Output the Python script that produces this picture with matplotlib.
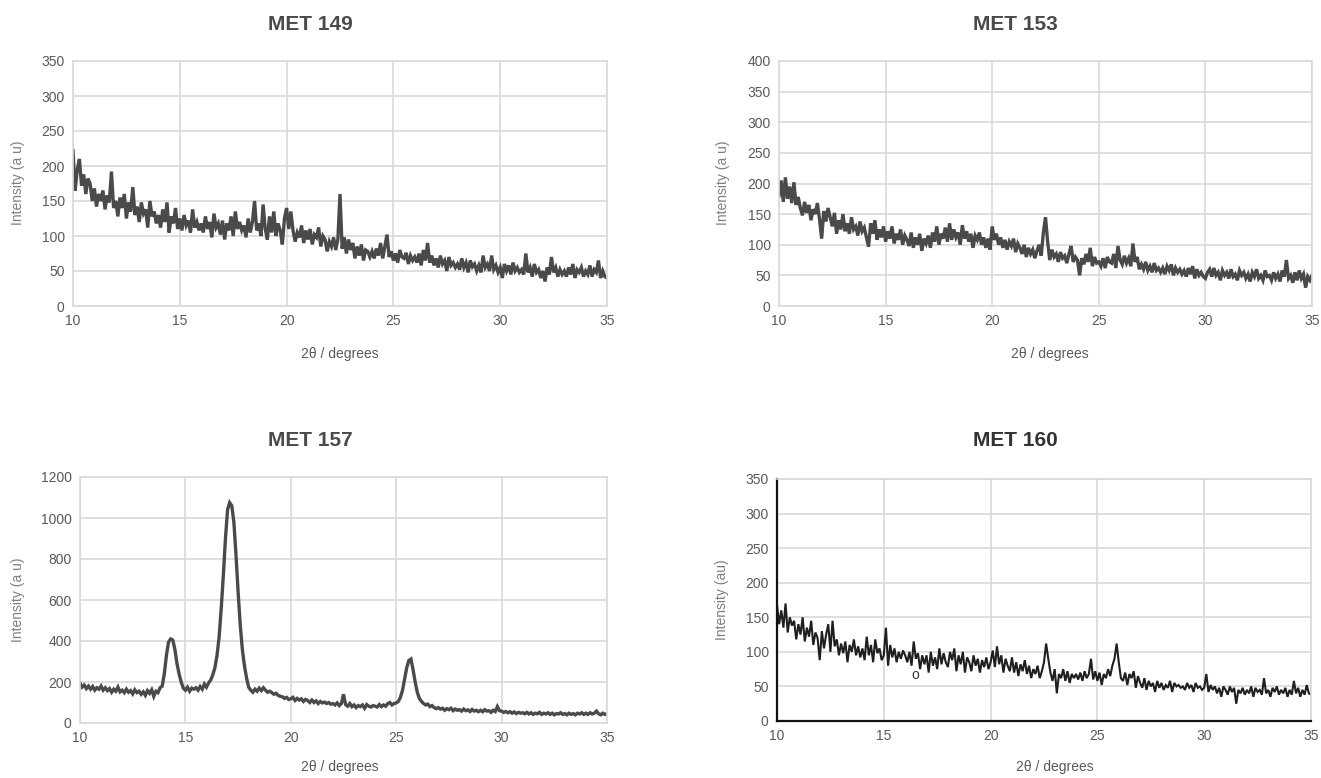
import numpy as np
import matplotlib
matplotlib.use("Agg")
import matplotlib.pyplot as plt

plt.rcParams["font.family"] = ["Liberation Sans", "DejaVu Sans"]

# two-theta grid shared by all patterns (10 to 35 deg, 0.1 deg step)
two_theta = np.round(np.arange(10.0, 35.0001, 0.1), 1)

met149 = [
    222, 165, 195, 210, 172, 188, 160, 182, 175, 150,
    168, 142, 160, 150, 165, 138, 158, 148, 192, 140,
    150, 128, 155, 140, 160, 125, 148, 135, 170, 130,
    142, 120, 148, 132, 138, 112, 150, 128, 135, 118,
    130, 112, 138, 120, 148, 105, 128, 118, 140, 110,
    125, 108, 130, 115, 122, 105, 138, 112, 120, 108,
    118, 105, 128, 110, 120, 98, 132, 112, 118, 102,
    122, 95, 118, 108, 128, 100, 135, 110, 120, 108,
    115, 98, 125, 105, 120, 150, 108, 118, 100, 145,
    110, 95, 128, 105, 135, 100, 118, 108, 88, 125,
    140, 110, 135, 108, 92, 105, 98, 115, 90, 108,
    95, 110, 88, 102, 98, 112, 85, 100, 95, 78,
    92, 85, 98, 80, 95, 160, 82, 98, 75, 95,
    80, 90, 68, 85, 72, 88, 65, 80, 78, 70,
    78, 68, 82, 72, 90, 68, 85, 102, 70, 78,
    65, 75, 62, 80, 70, 68, 76, 60, 72, 65,
    70, 62, 75, 58, 80, 65, 90, 62, 72, 58,
    68, 55, 72, 60, 65, 50, 70, 58, 62, 55,
    60, 52, 68, 55, 62, 48, 65, 56, 60, 50,
    58, 48, 72, 55, 60, 50, 72, 52, 58, 48,
    55, 40, 60, 50, 58, 45, 62, 50, 55, 48,
    52, 45, 75, 48, 55, 42, 60, 48, 52, 40,
    50, 35, 55, 45, 70, 48, 55, 42, 52, 45,
    50, 42, 55, 45, 60, 40, 52, 48, 55, 42,
    50, 45, 58, 42, 52, 48, 65, 40, 50, 42,
    40,
]

met153 = [
    180, 205, 170, 210, 175, 195, 168, 202, 165, 178,
    160, 148, 170, 152, 165, 140, 158, 150, 168, 142,
    110, 155, 138, 160, 145, 130, 152, 118, 140, 125,
    150, 122, 135, 118, 145, 125, 130, 115, 138, 122,
    128, 112, 97, 135, 118, 140, 108, 125, 112, 130,
    105, 122, 110, 130, 102, 118, 108, 125, 100, 115,
    108, 98, 120, 95, 112, 100, 118, 90, 110, 102,
    115, 95, 120, 105, 130, 100, 118, 110, 128, 105,
    135, 108, 125, 112, 120, 100, 132, 110, 122, 105,
    118, 95, 115, 108, 120, 100, 112, 95, 110, 92,
    130, 108, 118, 100, 112, 95, 108, 92, 105, 98,
    110, 88, 102, 95, 85, 100, 80, 95, 85, 92,
    78, 90, 100, 82, 120, 145, 105, 75, 92, 80,
    85, 72, 88, 78, 82, 70, 85, 98, 72, 80,
    75, 50, 78, 68, 85, 72, 95, 65, 80, 70,
    72, 65, 78, 62, 80, 72, 70, 85, 62, 98,
    75, 68, 82, 70, 78, 65, 102, 72, 80, 60,
    68, 60, 72, 58, 65, 55, 70, 58, 62, 55,
    62, 52, 65, 58, 68, 50, 62, 55, 60, 52,
    58, 48, 62, 52, 65, 45, 60, 50, 55, 48,
    45, 55, 60, 48, 62, 50, 55, 42, 58, 50,
    55, 45, 60, 48, 52, 42, 58, 50, 55, 45,
    52, 40, 55, 48, 60, 45, 50, 42, 58, 48,
    50, 42, 55, 45, 52, 40, 58, 48, 75, 45,
    50, 38, 55, 42, 58, 45, 52, 30, 48, 42,
    50,
]

met157 = [
    195, 175, 185, 168, 180, 165, 178, 160, 172, 165,
    180, 160, 172, 158, 168, 150, 165, 155, 175, 152,
    160, 148, 165, 150, 158, 142, 162, 148, 155, 140,
    152, 135, 158, 145, 162, 130, 155, 148, 172, 180,
    240, 330, 395, 410, 405, 360, 290, 240, 200, 170,
    160, 175, 155, 170, 165, 172, 160, 178, 165, 190,
    175, 195, 210, 235, 270, 330, 420, 560, 720, 900,
    1040, 1075, 1060, 980, 820, 640, 480, 360, 280, 220,
    175, 160, 150, 165, 155, 170, 158, 172, 160, 150,
    155, 148, 140, 145, 135, 130, 128, 120, 125, 115,
    118, 125, 110, 120, 112, 118, 105, 115, 110, 100,
    112, 100, 108, 95, 105, 98, 102, 95, 100, 92,
    95, 88, 98, 85, 95, 140, 90, 82, 95, 80,
    88, 75, 85, 80, 88, 72, 90, 82, 78, 85,
    82, 78, 90, 80, 88, 82, 95, 100, 88, 95,
    98, 105, 125, 160, 215, 270, 305, 312, 260, 200,
    150, 120, 105, 95, 88, 92, 80, 85, 75, 70,
    75, 68, 72, 62, 70, 65, 72, 60, 68, 62,
    65, 58, 68, 60, 64, 56, 66, 58, 62, 55,
    62, 55, 65, 58, 60, 52, 62, 56, 80, 60,
    58, 52, 56, 50, 55, 48, 54, 46, 52, 48,
    50, 45, 52, 44, 50, 42, 48, 45, 52, 42,
    48, 44, 50, 42, 48, 40, 46, 44, 50, 42,
    46, 40, 48, 42, 46, 40, 48, 44, 50, 42,
    48, 42, 50, 44, 48, 58, 45, 40, 48, 42,
    45,
]

met160 = [
    168, 140, 160, 135, 170, 128, 150, 138, 145, 118,
    140, 125, 150, 115, 135, 122, 145, 110, 128, 120,
    88, 130, 105, 125, 140, 100, 145, 108, 118, 95,
    112, 98, 115, 85, 110, 100, 118, 95, 108, 92,
    105, 88, 122, 95, 110, 85, 118, 98, 105, 88,
    95, 135, 80, 110, 92, 105, 85, 100, 90, 102,
    95, 85, 100, 80, 115, 90, 98, 75, 95, 82,
    95, 70, 100, 80, 92, 75, 105, 82, 98, 85,
    78, 100, 88, 105, 72, 95, 82, 100, 70, 92,
    85, 72, 95, 80, 90, 70, 88, 78, 92, 75,
    85, 102, 78, 108, 82, 95, 70, 90, 80, 72,
    92, 70, 85, 65, 82, 72, 88, 68, 80, 62,
    75, 68, 80, 62, 72, 85, 112, 90, 70, 58,
    75, 40, 68, 62, 75, 58, 72, 55, 68, 62,
    68, 60, 70, 58, 72, 62, 68, 90, 60, 72,
    58, 70, 52, 68, 62, 75, 65, 80, 90, 112,
    85, 62, 58, 70, 52, 68, 62, 72, 48, 65,
    55, 48, 62, 45, 58, 50, 55, 42, 58, 48,
    55, 45, 52, 48, 58, 42, 55, 50, 52, 48,
    50, 45, 55, 48, 52, 42, 55, 48, 50, 45,
    48, 68, 42, 52, 45, 50, 40, 48, 35, 50,
    45, 38, 50, 42, 48, 25, 45, 40, 48, 38,
    45, 40, 50, 35, 48, 42, 45, 38, 62, 40,
    45, 35, 48, 42, 50, 38, 45, 40, 48, 35,
    45, 38, 58, 40, 48, 35, 45, 38, 52, 40,
    38,
]

titles = ["MET 149", "MET 153", "MET 157", "MET 160"]
ylabels = ["Intensity (a u)", "Intensity (a u)", "Intensity (a u)", "Intensity (au)"]
xlabel = "2θ / degrees"
xticks = [10, 15, 20, 25, 30, 35]
yticks_list = [
    list(range(0, 351, 50)),
    list(range(0, 401, 50)),
    list(range(0, 1201, 200)),
    list(range(0, 351, 50)),
]
series = [met149, met153, met157, met160]

W, H = 1321, 778
fig = plt.figure(figsize=(W / 100, H / 100), dpi=100)
fig.patch.set_facecolor("white")

# axes rectangles in pixels: left, top, right, bottom
rects_px = [
    (73, 61, 607, 306),
    (779, 61, 1312, 306),
    (80, 477, 607, 723),
    (777, 479, 1311, 721),
]
title_px = [(310, 25), (1015, 25), (310, 440), (1015, 440)]
xlabel_px = [(340, 354), (1050, 354), (340, 767), (1055, 767)]
ylabel_px = [(18, 183), (723, 183), (18, 600), (722, 600)]

grid_c = "#d9d9d9"
tick_c = "#595959"
for i in range(4):
    l, t, r, b = rects_px[i]
    ax = fig.add_axes([l / W, 1 - b / H, (r - l) / W, (b - t) / H])
    line_c = "#1f1f1f" if i == 3 else "#4a4a4a"
    lw = 1.5 if i == 3 else 2.4
    ax.plot(two_theta, series[i], color=line_c, lw=lw, solid_joinstyle="miter")
    ax.set_xlim(10, 35)
    yt = yticks_list[i]
    ax.set_ylim(yt[0], yt[-1])
    ax.set_xticks(xticks)
    ax.set_yticks(yt)
    ax.grid(True, color=grid_c, lw=1.2)
    ax.set_axisbelow(True)
    ax.tick_params(length=0, labelsize=10, colors=tick_c, pad=6)
    for s in ax.spines.values():
        s.set_color(grid_c)
        s.set_linewidth(1.2)
    if i == 3:
        ax.spines["left"].set_color("#111111")
        ax.spines["bottom"].set_color("#111111")
        ax.spines["left"].set_linewidth(1.6)
        ax.spines["bottom"].set_linewidth(1.6)
        ax.text(16.45, 66, "o", fontsize=10, color="#333333", ha="center", va="center")
    tx, ty = title_px[i]
    fig.text(tx / W, 1 - ty / H, titles[i], ha="center", va="center",
             fontsize=15, fontweight="bold",
             color="#333333" if i == 3 else "#4a4a4a")
    lx, ly = xlabel_px[i]
    fig.text(lx / W, 1 - ly / H, xlabel, ha="center", va="center",
             fontsize=10, color=tick_c)
    yx, yy = ylabel_px[i]
    fig.text(yx / W, 1 - yy / H, ylabels[i], ha="center", va="center",
             fontsize=10, color="#7f7f7f", rotation=90)

fig.savefig("out.png", dpi=100)
